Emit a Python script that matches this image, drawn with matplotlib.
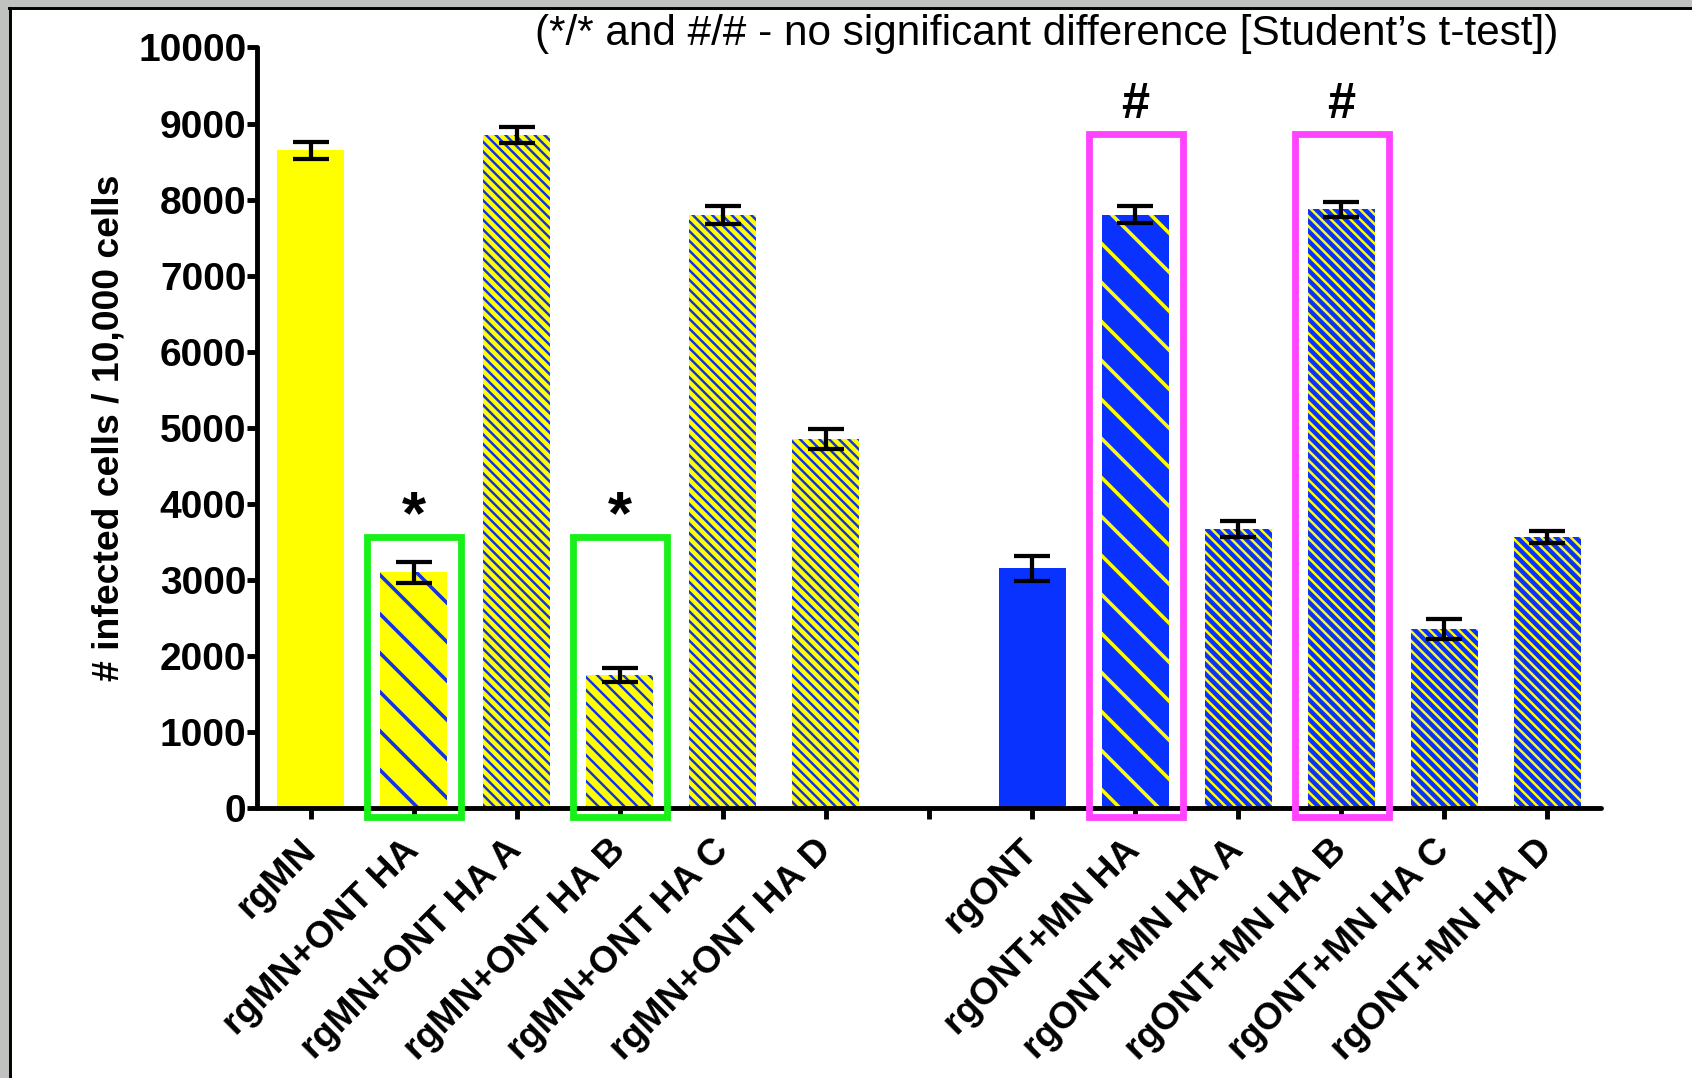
import matplotlib
matplotlib.use("Agg")
import matplotlib.pyplot as plt
from matplotlib.patches import Rectangle
from matplotlib.lines import Line2D

plt.rcParams['font.family'] = ['Liberation Sans', 'DejaVu Sans']

# ---- data -------------------------------------------------------------
categories = ["rgMN", "rgMN+ONT HA", "rgMN+ONT HA A", "rgMN+ONT HA B",
              "rgMN+ONT HA C", "rgMN+ONT HA D",
              "rgONT", "rgONT+MN HA", "rgONT+MN HA A", "rgONT+MN HA B",
              "rgONT+MN HA C", "rgONT+MN HA D"]
means = [8650, 3100, 8850, 1750, 7800, 4850,
         3150, 7800, 3670, 7870, 2350, 3560]
errors = [110, 140, 110, 90, 120, 130,
          170, 110, 110, 100, 130, 80]
positions = [0, 1, 2, 3, 4, 5, 7, 8, 9, 10, 11, 12]
yticks = [0, 1000, 2000, 3000, 4000, 5000, 6000, 7000, 8000, 9000, 10000]

# groups not significantly different from each other
star_pair = [1, 3]       # rgMN+ONT HA, rgMN+ONT HA B
hash_pair = [7, 9]       # rgONT+MN HA, rgONT+MN HA B

title = "(*/* and #/# - no significant difference [Student\u2019s t-test])"
ylabel = "# infected cells / 10,000 cells"

# ---- styling ----------------------------------------------------------
YELLOW = "#ffff00"
BLUE = "#0a32ff"
HBLUE = "#1232e6"
fills = [YELLOW] * 6 + [BLUE] * 6
hatch_cols = ["none", HBLUE, HBLUE, HBLUE, HBLUE, HBLUE,
              "none", YELLOW, YELLOW, YELLOW, YELLOW, YELLOW]
d = "\\"
hatches = ["", d, d * 4, d * 3, d * 4, d * 4,
           "", d, d * 4, d * 4, d * 4, d * 4]
hatch_lws = [1.0, 2.2, 1.5, 1.5, 1.5, 1.5,
             1.0, 2.2, 1.5, 1.5, 1.5, 1.5]

DPI = 117
W, H = 1692, 1078
fig = plt.figure(figsize=(W / DPI, H / DPI), dpi=DPI, facecolor="white")

ax = fig.add_axes([257 / W, 1 - 808 / H, (1601 - 257) / W, (808 - 47.5) / H])


def with_hatch_width(draw, lw):
    """Wrap an artist's draw so its hatch is stroked at width lw."""
    def _draw(renderer):
        with plt.rc_context({'hatch.linewidth': lw}):
            draw(renderer)
    return _draw


for x, m, e, fc, hc, hp, hl in zip(positions, means, errors, fills,
                                   hatch_cols, hatches, hatch_lws):
    with plt.rc_context({'hatch.linewidth': hl}):
        bars = ax.bar(x, m, width=0.65, color=fc,
                      edgecolor=hc if hp else fc,
                      hatch=hp if hp else None, linewidth=0, zorder=2)
    for b in bars:
        if hp and hasattr(b, "set_hatch_linewidth"):
            b.set_hatch_linewidth(hl)
        b.draw = with_hatch_width(b.draw, hl)
    ax.errorbar(x, m, yerr=e, fmt="none", ecolor="black", elinewidth=2.6,
                capsize=11, capthick=2.6, zorder=3)

# significance boxes
for i in star_pair:
    x = positions[i]
    ax.add_patch(Rectangle((x - 0.45, -115), 0.91, 3675, fill=False,
                           edgecolor="#19f019", linewidth=4.2,
                           clip_on=False, zorder=4))
    ax.text(x, 3820, "*", ha="center", va="center", fontsize=38,
            fontweight="bold", zorder=5)
for i in hash_pair:
    x = positions[i]
    ax.add_patch(Rectangle((x - 0.45, -115), 0.91, 8980, fill=False,
                           edgecolor="#ff44ff", linewidth=4.2,
                           clip_on=False, zorder=4))
    ax.text(x, 9250, "#", ha="center", va="center", fontsize=31,
            fontweight="bold", zorder=5)

ax.set_xlim(-0.52, 12.52)
ax.set_ylim(0, 10000)
ax.set_yticks(yticks)
ax.set_yticklabels([str(v) for v in yticks], fontsize=24, fontweight="bold")
tick_pos = list(range(13))
tick_labels = []
for p in tick_pos:
    tick_labels.append(categories[positions.index(p)] if p in positions else "")
ax.set_xticks(tick_pos)
ax.set_xticklabels(tick_labels, rotation=45, ha="right", va="center",
                   rotation_mode="anchor", fontsize=23, fontweight="bold")
ax.tick_params(axis="x", length=7, width=3, pad=16)
ax.tick_params(axis="y", length=6, width=3, pad=0.5)
for side in ("top", "right"):
    ax.spines[side].set_visible(False)
for side in ("left", "bottom"):
    ax.spines[side].set_linewidth(3)
    ax.spines[side].set_capstyle("round")
ax.set_ylabel(ylabel, fontsize=23, fontweight="bold", labelpad=7)

fig.text(1047 / W, 1 - 34.5 / H, title, ha="center", va="center",
         fontsize=26)

# window-style frame along the top and left edges
fig.add_artist(Rectangle((0, 1 - 7 / H), 1, 7 / H, transform=fig.transFigure,
                         facecolor="#c0c2c0", edgecolor="none"))
fig.add_artist(Rectangle((0, 0), 9 / W, 1, transform=fig.transFigure,
                         facecolor="#c0c2c0", edgecolor="none"))
fig.add_artist(Line2D([9 / W, 1], [1 - 8 / H, 1 - 8 / H],
                      transform=fig.transFigure, color="black", lw=1.8))
fig.add_artist(Line2D([10 / W, 10 / W], [0, 1 - 8 / H],
                      transform=fig.transFigure, color="black", lw=1.8))

fig.savefig("out.png", dpi=DPI, facecolor="white")
